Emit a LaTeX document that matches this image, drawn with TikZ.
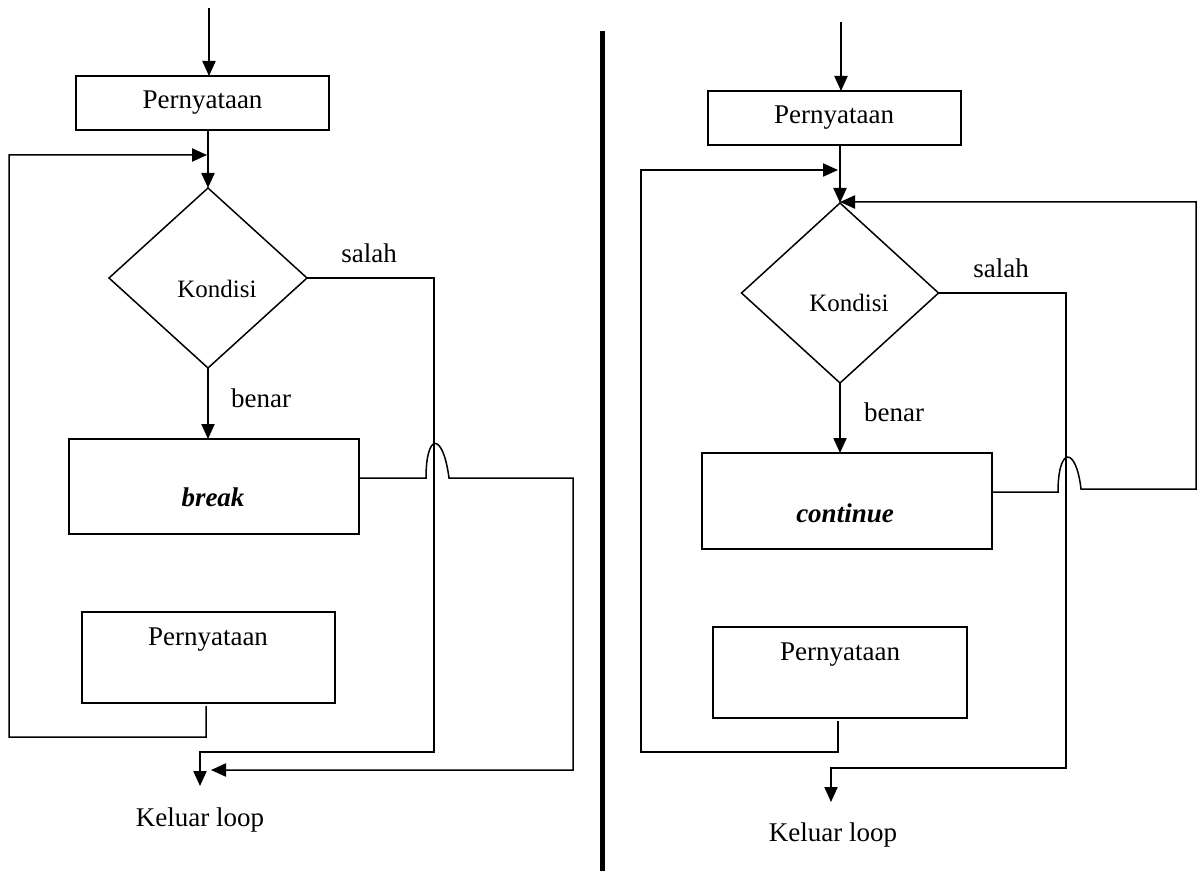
\documentclass[tikz,border=0pt]{standalone}
\usepackage{fontspec}
\setmainfont{Liberation Serif}
\usetikzlibrary{shapes.geometric,arrows.meta}
\begin{document}
\begin{tikzpicture}[x=0.5pt,y=-0.5pt,
  line width=0.75pt,
  arr/.style={-{Triangle[length=7.5pt,width=6.6pt]}},
  boxnode/.style={draw,rectangle,inner sep=0pt,outer sep=0pt},
  dia/.style={draw,diamond,inner sep=0pt,outer sep=0pt,minimum width=99pt,minimum height=90pt},
  txt/.style={inner sep=0pt,font=\fontsize{13.5}{16}\selectfont},
  small/.style={inner sep=0pt,font=\fontsize{12.5}{15}\selectfont},
  kw/.style={inner sep=0pt,font=\fontsize{13.5}{16}\selectfont\bfseries\itshape}]
\useasboundingbox (0,0) rectangle (1197,871);

% ---------- left: break ----------
\node[boxnode,minimum width=126.5pt,minimum height=27pt] (L1) at (202.5,103) {};
\node[txt] (L1t) at (202.5,103) {Pernyataan};
\node[dia] (Ld) at (208,278) {};
\node[small] (Ldt) at (217,289) {Kondisi};
\node[boxnode,minimum width=145pt,minimum height=47.5pt] (L2) at (214,486.5) {};
\node[kw] (L2t) at (213,497) {break};
\node[boxnode,minimum width=126.5pt,minimum height=45.5pt] (L3) at (208.5,657.5) {};
\node[txt] (L3t) at (208,640) {Pernyataan};
\node[txt] (Lsalah) at (369,253) {salah};
\node[txt] (Lbenar) at (261,398) {benar};
\node[txt] (Lout) at (200,820) {Keluar loop};

\coordinate (Lin) at (209,8);
\coordinate (Lj) at (207,155);
\coordinate (Lexit) at (200,786);
\coordinate (Lexit2) at (211,770);

\draw[arr] (Lin) -- (Lin |- L1.north);
\draw[arr] (Ld.north |- L1.south) -- (Ld.north);
\draw[arr] ([xshift=-1.2pt,yshift=-1.5pt]L3.south) -- (206,737) -| (9,155) -- (Lj);
\draw[arr] (Ld.east) -- (434,278) -- (434,752) -- (200,752) -- (Lexit);
\draw[arr] (Ld.south) -- (Ld.south |- L2.north);
\draw[arr] (L2.east |- 0,478) -- (426,478)
   .. controls (426,432) and (443,432) .. (449,478)
   -- (573,478) -- (573,770) -- (Lexit2);

% ---------- divider ----------
\draw[line width=2.6pt] (602.5,31) -- (602.5,871);

% ---------- right: continue ----------
\node[boxnode,minimum width=126.5pt,minimum height=27pt] (R1) at (834.5,118) {};
\node[txt] (R1t) at (834,118) {Pernyataan};
\node[dia,minimum width=98.5pt] (Rd) at (840,293) {};
\node[small] (Rdt) at (849,303) {Kondisi};
\node[boxnode,minimum width=145pt,minimum height=48pt] (R2) at (847,501) {};
\node[kw] (R2t) at (845,513) {continue};
\node[boxnode,minimum width=127pt,minimum height=45.5pt] (R3) at (840,672.5) {};
\node[txt] (R3t) at (840,655) {Pernyataan};
\node[txt] (Rsalah) at (1001,268) {salah};
\node[txt] (Rbenar) at (894,412) {benar};
\node[txt] (Rout) at (833,835) {Keluar loop};

\coordinate (Rin) at (841,22);
\coordinate (Rj) at (838,170);
\coordinate (Rj2) at (840,202);
\coordinate (Rexit) at (831,802);

\draw[arr] (Rin) -- (Rin |- R1.north);
\draw[arr] (Rd.north |- R1.south) -- (Rd.north);
\draw[arr] ([xshift=-1pt,yshift=-1.5pt]R3.south) -- (838,752) -| (641,170) -- (Rj);
\draw[arr] (Rd.east) -- (1066,293) -- (1066,768) -- (831,768) -- (Rexit);
\draw[arr] (Rd.south) -- (Rd.south |- R2.north);
\draw[arr] (R2.east |- 0,492) -- (1058,492)
   .. controls (1058,446) and (1076,446) .. (1081,489)
   -- (1196,489) -- (1196,202) -- (Rj2);
\end{tikzpicture}
\end{document}
